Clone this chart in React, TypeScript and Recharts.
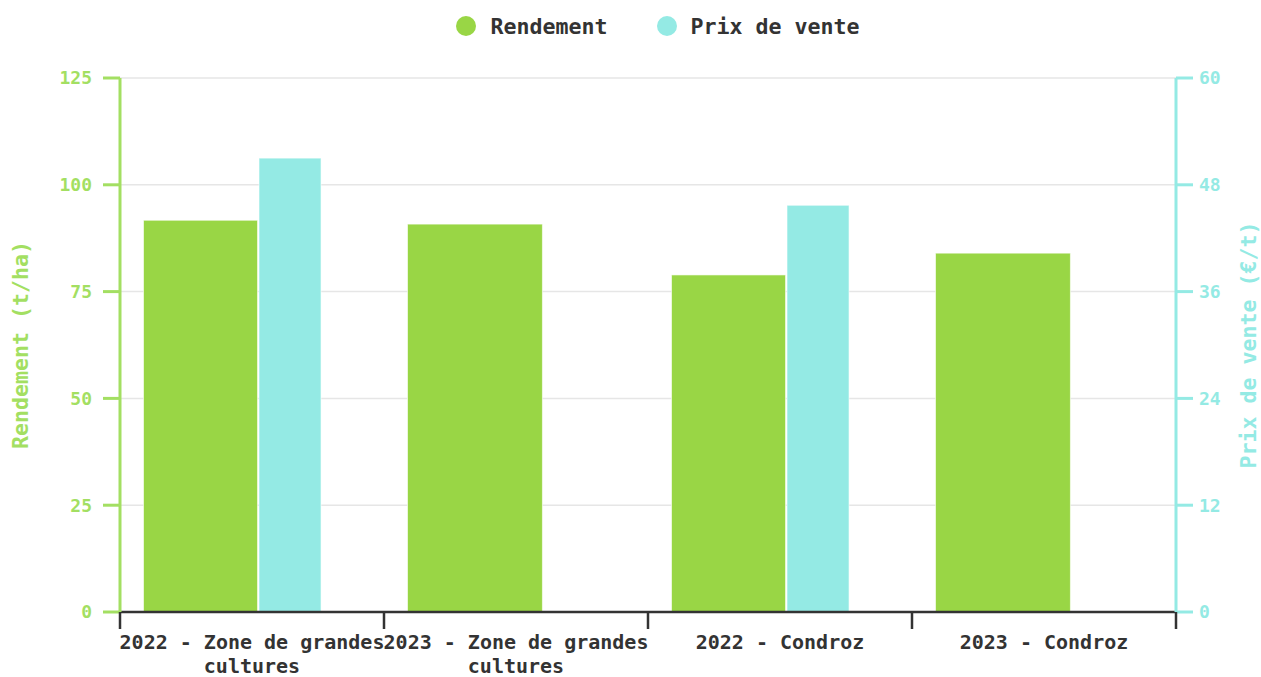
import React from 'react';
import { BarChart, Bar, XAxis, YAxis, CartesianGrid, Legend } from 'recharts';

const categories = [
  '2022 - Zone de grandes cultures',
  '2023 - Zone de grandes cultures',
  '2022 - Condroz',
  '2023 - Condroz',
];
const rendement = [91.7, 90.8, 78.9, 84.0];
const prixVente: (number | null)[] = [51.0, null, 45.7, null];
const leftTicks = [0, 25, 50, 75, 100, 125];
const rightTicks = [0, 12, 24, 36, 48, 60];
const seriesNames = ['Rendement', 'Prix de vente'];

const data = categories.map((c, i) => ({ category: c, rendement: rendement[i], prix: prixVente[i] }));

const GREEN = '#99d645';
const GREEN_AXIS = '#a3df62';
const CYAN = '#94eae4';
const DARK = '#333333';
const FONT = "'DejaVu Sans Mono', monospace";

// relative layout of bars inside a category band
const GREEN_START = 0.089;
const GREEN_PAIRED = 0.432;
const GREEN_ALONE = 0.511;
const CYAN_START = 0.5265;
const CYAN_W = 0.235;

function RendementShape(props: any) {
  const { x, y, width, height, fill, payload } = props;
  if (!(height > 0)) return null;
  const band = width * 2;
  const paired = payload && payload.prix != null;
  return (
    <rect
      x={x + GREEN_START * band}
      y={y}
      width={(paired ? GREEN_PAIRED : GREEN_ALONE) * band}
      height={height}
      fill={fill}
      stroke="#ffffff"
      strokeOpacity={0.6}
      strokeWidth={1}
    />
  );
}

function PrixShape(props: any) {
  const { x, y, width, height, fill, payload } = props;
  if (!payload || payload.prix == null || !(height > 0)) return null;
  const band = width * 2;
  const start = x - width;
  return (
    <rect
      x={start + CYAN_START * band}
      y={y}
      width={CYAN_W * band}
      height={height}
      fill={fill}
      stroke="#ffffff"
      strokeOpacity={0.6}
      strokeWidth={1}
    />
  );
}

function wrapLabel(s: string, max: number) {
  const words = s.split(' ');
  const lines: string[] = [];
  let cur = '';
  for (const w of words) {
    const next = cur ? cur + ' ' + w : w;
    if (next.length > max && cur) {
      lines.push(cur);
      cur = w;
    } else cur = next;
  }
  if (cur) lines.push(cur);
  return lines;
}

function CategoryTick(props: any) {
  const { x, y, payload, index, visibleTicksCount, width } = props;
  const count = visibleTicksCount || categories.length;
  const band =
    typeof width === 'number' && width > 0
      ? width / count
      : payload && payload.offset
      ? payload.offset * 2
      : 0;
  const half = band / 2;
  const lines = wrapLabel(String(payload.value), 22);
  const TICK = 17;
  return (
    <g>
      <line x1={x - half} y1={y} x2={x - half} y2={y + TICK} stroke={DARK} strokeWidth={2.5} />
      {index === count - 1 && (
        <line x1={x + half} y1={y} x2={x + half} y2={y + TICK} stroke={DARK} strokeWidth={2.5} />
      )}
      <text x={x} y={y} textAnchor="middle" fill={DARK} fontFamily={FONT} fontWeight="bold" fontSize={20}>
        {lines.map((l, i) => (
          <tspan key={i} x={x} dy={i === 0 ? 37 : 24}>
            {l}
          </tspan>
        ))}
      </text>
    </g>
  );
}

function renderLegend(props: any) {
  const { payload } = props;
  const items = seriesNames
    .map((n) => (payload || []).find((p: any) => p.value === n))
    .filter(Boolean);
  return (
    <div
      style={{
        height: 72,
        display: 'flex',
        justifyContent: 'center',
        alignItems: 'flex-start',
        paddingLeft: 55,
        boxSizing: 'border-box',
      }}
    >
      <div style={{ display: 'flex', alignItems: 'center', height: 40, gap: 49 }}>
        {items.map((p: any, i: number) => (
          <div key={i} style={{ display: 'flex', alignItems: 'center' }}>
            <span
              style={{ width: 20, height: 20, borderRadius: 10, background: p.color, display: 'inline-block', marginRight: 14 }}
            />
            <span style={{ fontFamily: FONT, fontWeight: 'bold', fontSize: 21.6, color: DARK }}>{p.value}</span>
          </div>
        ))}
      </div>
    </div>
  );
}

function LeftTitle(props: any) {
  const { viewBox } = props;
  const cy = viewBox.y + viewBox.height / 2;
  const x = 28;
  return (
    <text x={x} y={cy} transform={`rotate(-90, ${x}, ${cy})`} textAnchor="middle" fill={GREEN_AXIS} fontFamily={FONT} fontWeight="bold" fontSize={21.6}>
      Rendement (t/ha)
    </text>
  );
}

function RightTitle(props: any) {
  const { viewBox } = props;
  const cy = viewBox.y + viewBox.height / 2;
  const x = viewBox.x + viewBox.width - 5;
  return (
    <text x={x} y={cy} transform={`rotate(-90, ${x}, ${cy})`} textAnchor="middle" fill={CYAN} fontFamily={FONT} fontWeight="bold" fontSize={21.6}>
      Prix de vente (€/t)
    </text>
  );
}

export default function App() {
  return (
    <div style={{ position: 'absolute', left: 0, top: 0, width: 1261, height: 677, background: '#fff' }}>
      <BarChart
        width={1261}
        height={677}
        data={data}
        margin={{ top: 6, right: 0, bottom: 64, left: 0 }}
        barCategoryGap={0}
        barGap={0}
      >
        <CartesianGrid vertical={false} stroke="#e6e6e6" strokeWidth={1.5} yAxisId="left" xAxisId="cat" />
        <XAxis
          xAxisId="cat"
          dataKey="category"
          height={1}
          axisLine={{ stroke: DARK, strokeWidth: 2.5 }}
          tickLine={false}
          tickSize={0}
          tickMargin={0}
          interval={0}
          tick={<CategoryTick />}
        />
        <YAxis
          yAxisId="left"
          orientation="left"
          width={120}
          domain={[0, 125]}
          ticks={leftTicks}
          interval={0}
          tickSize={17}
          tickMargin={11}
          axisLine={{ stroke: GREEN_AXIS, strokeWidth: 3 }}
          tickLine={{ stroke: GREEN_AXIS, strokeWidth: 3 }}
          tick={{ fill: GREEN_AXIS, fontFamily: FONT, fontWeight: 'bold', fontSize: 18 }}
          label={<LeftTitle />}
        />
        <YAxis
          yAxisId="right"
          orientation="right"
          width={85}
          domain={[0, 60]}
          ticks={rightTicks}
          interval={0}
          tickSize={17}
          tickMargin={6}
          axisLine={{ stroke: CYAN, strokeWidth: 3 }}
          tickLine={{ stroke: CYAN, strokeWidth: 3 }}
          tick={{ fill: CYAN, fontFamily: FONT, fontWeight: 'bold', fontSize: 18 }}
          label={<RightTitle />}
        />
        <Legend verticalAlign="top" align="center" content={renderLegend} />
        <Bar
          dataKey="rendement"
          name="Rendement"
          xAxisId="cat"
          yAxisId="left"
          fill={GREEN}
          shape={RendementShape}
          isAnimationActive={false}
        />
        <Bar
          dataKey="prix"
          name="Prix de vente"
          xAxisId="cat"
          yAxisId="right"
          fill={CYAN}
          shape={PrixShape}
          isAnimationActive={false}
        />
      </BarChart>
    </div>
  );
}
